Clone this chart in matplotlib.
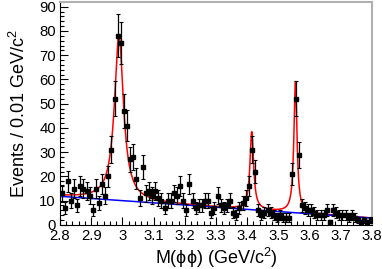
import numpy as np
import matplotlib
matplotlib.use("Agg")
from matplotlib import pyplot as plt
from matplotlib.ticker import MultipleLocator

plt.rcParams['font.family'] = ['Liberation Sans', 'DejaVu Sans']
plt.rcParams['mathtext.fontset'] = 'custom'
plt.rcParams['mathtext.rm'] = 'Liberation Sans'

# bin centres of M(phiphi), 10 MeV bins from 2.8 to 3.8
mass = np.round(np.arange(2.805, 3.8, 0.01), 3)

# events per bin
events = [13, 7, 18, 10, 15, 8, 16, 15, 14, 12,
          6, 15, 9, 17, 12, 20, 31, 52, 78, 75,
          47, 41, 27, 28, 19, 11, 24, 13, 14, 12,
          14, 11, 10, 7, 10, 10, 13, 12, 16, 10,
          6, 17, 10, 7, 8, 8, 10, 10, 5, 7,
          12, 8, 7, 8, 10, 5, 4, 7, 9, 11,
          16, 31, 22, 6, 4, 5, 6, 5, 4, 3,
          4, 3, 3, 3, 21, 52, 29, 8, 7, 6,
          6, 5, 4, 4, 4, 6, 1, 6, 5, 4,
          4, 4, 3, 4, 3, 2, 1, 2, 1, 2]

# fit result: linear background (value at 2.8 and 3.8) + three resonances
bkg_ends = [11.8, 2.8]
peak_mass = [2.989, 3.4145, 3.5545]
peak_hwhm = [0.0175, 0.007, 0.006]
peak_height = [68.0, 32.0, 54.0]

events = np.array(events, dtype=float)
err = np.sqrt(events)

m = np.linspace(2.8, 3.8, 2000)
bkg = bkg_ends[0] + (bkg_ends[1] - bkg_ends[0]) * (m - 2.8)
total = bkg.copy()
for m0, g, h in zip(peak_mass, peak_hwhm, peak_height):
    total += h / (1 + ((m - m0) / g) ** 2)

fig = plt.figure(figsize=(3.82, 2.69), dpi=100)
ax = fig.add_axes([0.157, 0.164, 0.817, 0.829])

ax.plot(m, total, color='red', lw=1.1, zorder=2)
ax.plot(m, bkg, color='blue', lw=1.1, zorder=3)
ax.errorbar(mass, events, yerr=err, fmt='s', color='black', ms=2.2,
            elinewidth=0.9, capsize=1.2, capthick=0.8, zorder=4)

ax.set_xlim(2.8, 3.8)
ax.set_ylim(0, 92)
ax.xaxis.set_major_locator(MultipleLocator(0.1))
ax.xaxis.set_minor_locator(MultipleLocator(0.02))
ax.yaxis.set_major_locator(MultipleLocator(10))
ax.yaxis.set_minor_locator(MultipleLocator(2))
ax.set_xticks(np.arange(2.8, 3.81, 0.1))
ax.set_xticklabels(['2.8', '2.9', '3', '3.1', '3.2', '3.3', '3.4', '3.5', '3.6', '3.7', '3.8'])

ax.tick_params(which='both', direction='in', top=False, right=False,
               labelsize=10.7, width=0.8)
ax.tick_params(axis='x', which='major', length=6, pad=3)
ax.tick_params(axis='y', which='major', length=6, pad=3)
ax.tick_params(which='minor', length=3)

for s in ['top', 'right']:
    ax.spines[s].set_color('#b0b0b0')
    ax.spines[s].set_linewidth(1.5)
for s in ['left', 'bottom']:
    ax.spines[s].set_linewidth(0.8)

ax.set_xlabel(r'M(ϕϕ) (GeV/c$^{2}$)', fontsize=13, labelpad=2)
ax.set_ylabel(r'Events / 0.01 GeV/c$^{2}$', fontsize=13, labelpad=7)

fig.savefig('out.png', dpi=100)
